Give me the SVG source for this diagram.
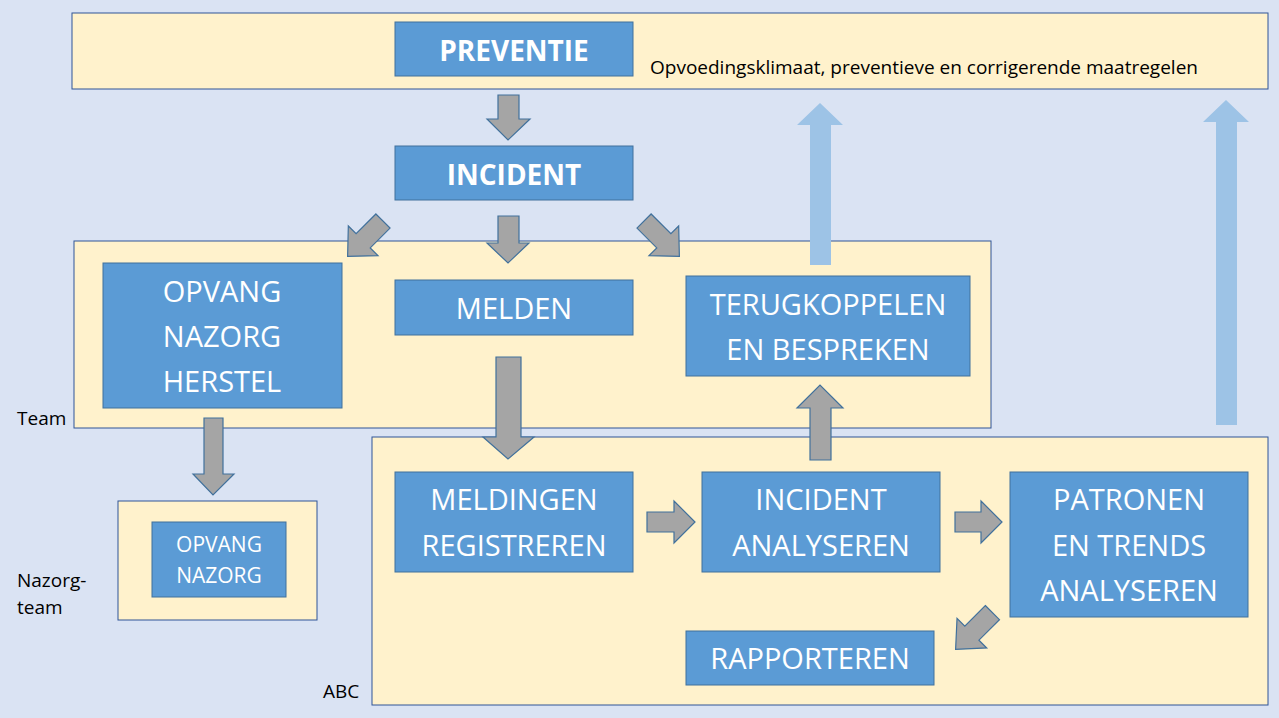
<svg xmlns="http://www.w3.org/2000/svg" width="1279" height="718" viewBox="0 0 1279 718">
<style>
.panel{fill:#FFF2CC;stroke:#2F5597;stroke-width:1}
.box{fill:#5B9BD5;stroke:#41719C;stroke-width:1}
.ba{fill:#A5A5A5;stroke:#41719C;stroke-width:1.2;stroke-linejoin:miter}
.lb{fill:#9DC3E6;stroke:none}
.t{font-family:"Open Sans","Liberation Sans",sans-serif;fill:#fff;text-anchor:middle}
.l{font-family:"Liberation Sans",sans-serif;fill:#000;font-size:19px}
</style>
<rect width="1279" height="718" fill="#DAE3F3"/>
<g id="panels">
<rect class="panel" x="72" y="13" width="1196" height="76"/>
<rect class="panel" x="74" y="241" width="917" height="187"/>
<rect class="panel" x="372" y="437" width="896" height="268"/>
<rect class="panel" x="118" y="501" width="199" height="119"/>
</g>
<g id="connectors">
<polygon class="lb" points="810,265 831,265 831,125 843,125 820,103 797,125 810,125"/>
<polygon class="lb" points="1216,425 1237,425 1237,122 1249,122 1226,100 1203,122 1216,122"/>
<polygon class="ba" points="498,95 519,95 519,119 530,119 508,140 487,119 498,119"/>
<polygon class="ba" points="498,216 519,216 519,243 529,243 508,263 487,243 498,243"/>
<g transform="rotate(45 366 238)"><polygon class="ba" points="356,214 376,214 376,242 387,242 366,264 345,242 356,242"/></g>
<g transform="rotate(-45 661 238)"><polygon class="ba" points="651,214 671,214 671,242 682,242 661,264 640,242 651,242"/></g>
<polygon class="ba" points="496,357 521,357 521,437 534,437 508,459 483,437 496,437"/>
<polygon class="ba" points="204,418 223,418 223,474 234,474 213,495 193,474 204,474"/>
<polygon class="ba" points="647,512 674,512 674,501 695,522 674,543 674,532 647,532"/>
<polygon class="ba" points="955,512 981,512 981,501 1002,522 981,543 981,532 955,532"/>
<polygon class="ba" points="810,460 831,460 831,408 843,408 820,385 797,408 810,408"/>
<g transform="rotate(45 974 631)"><polygon class="ba" points="964,605 984,605 984,634 995,634 974,657 953,634 964,634"/></g>
</g>
<g id="preventie"><rect class="box" x="395" y="22" width="238" height="54"/><text class="t" x="514" y="61" font-size="28" font-weight="bold">PREVENTIE</text></g>
<text class="l" x="650" y="74" font-family="Open Sans" style="font-family:'Open Sans','Liberation Sans',sans-serif">Opvoedingsklimaat, preventieve en corrigerende maatregelen</text>
<g id="incident"><rect class="box" x="395" y="146" width="238" height="54"/><text class="t" x="514" y="185" font-size="28" font-weight="bold">INCIDENT</text></g>
<g id="opvang"><rect class="box" x="103" y="263" width="239" height="145"/><text class="t" font-size="29"><tspan x="222" y="302">OPVANG</tspan><tspan x="222" y="347">NAZORG</tspan><tspan x="222" y="392">HERSTEL</tspan></text></g>
<g id="melden"><rect class="box" x="395" y="280" width="238" height="55"/><text class="t" x="514" y="319" font-size="29">MELDEN</text></g>
<g id="terug"><rect class="box" x="686" y="276" width="284" height="100"/><text class="t" font-size="29"><tspan x="828" y="315">TERUGKOPPELEN</tspan><tspan x="828" y="360">EN BESPREKEN</tspan></text></g>
<g id="meldingen"><rect class="box" x="395" y="472" width="238" height="100"/><text class="t" font-size="29"><tspan x="514" y="510">MELDINGEN</tspan><tspan x="514" y="556">REGISTREREN</tspan></text></g>
<g id="analyseren"><rect class="box" x="702" y="472" width="238" height="100"/><text class="t" font-size="29"><tspan x="821" y="510">INCIDENT</tspan><tspan x="821" y="556">ANALYSEREN</tspan></text></g>
<g id="patronen"><rect class="box" x="1010" y="472" width="238" height="145"/><text class="t" font-size="29"><tspan x="1129" y="510">PATRONEN</tspan><tspan x="1129" y="556">EN TRENDS</tspan><tspan x="1129" y="601">ANALYSEREN</tspan></text></g>
<g id="rapporteren"><rect class="box" x="686" y="631" width="248" height="54"/><text class="t" x="810" y="669" font-size="29">RAPPORTEREN</text></g>
<g id="opvangnazorg"><rect class="box" x="152" y="522" width="134" height="75"/><text class="t" font-size="21"><tspan x="219" y="552">OPVANG</tspan><tspan x="219" y="583">NAZORG</tspan></text></g>
<text class="l" x="17" y="425" style="font-family:'Open Sans','Liberation Sans',sans-serif">Team</text>
<text class="l" x="17" y="587" style="font-family:'Open Sans','Liberation Sans',sans-serif">Nazorg-</text>
<text class="l" x="17" y="614" style="font-family:'Open Sans','Liberation Sans',sans-serif">team</text>
<text class="l" x="323" y="698" style="font-family:'Open Sans','Liberation Sans',sans-serif">ABC</text>
</svg>
